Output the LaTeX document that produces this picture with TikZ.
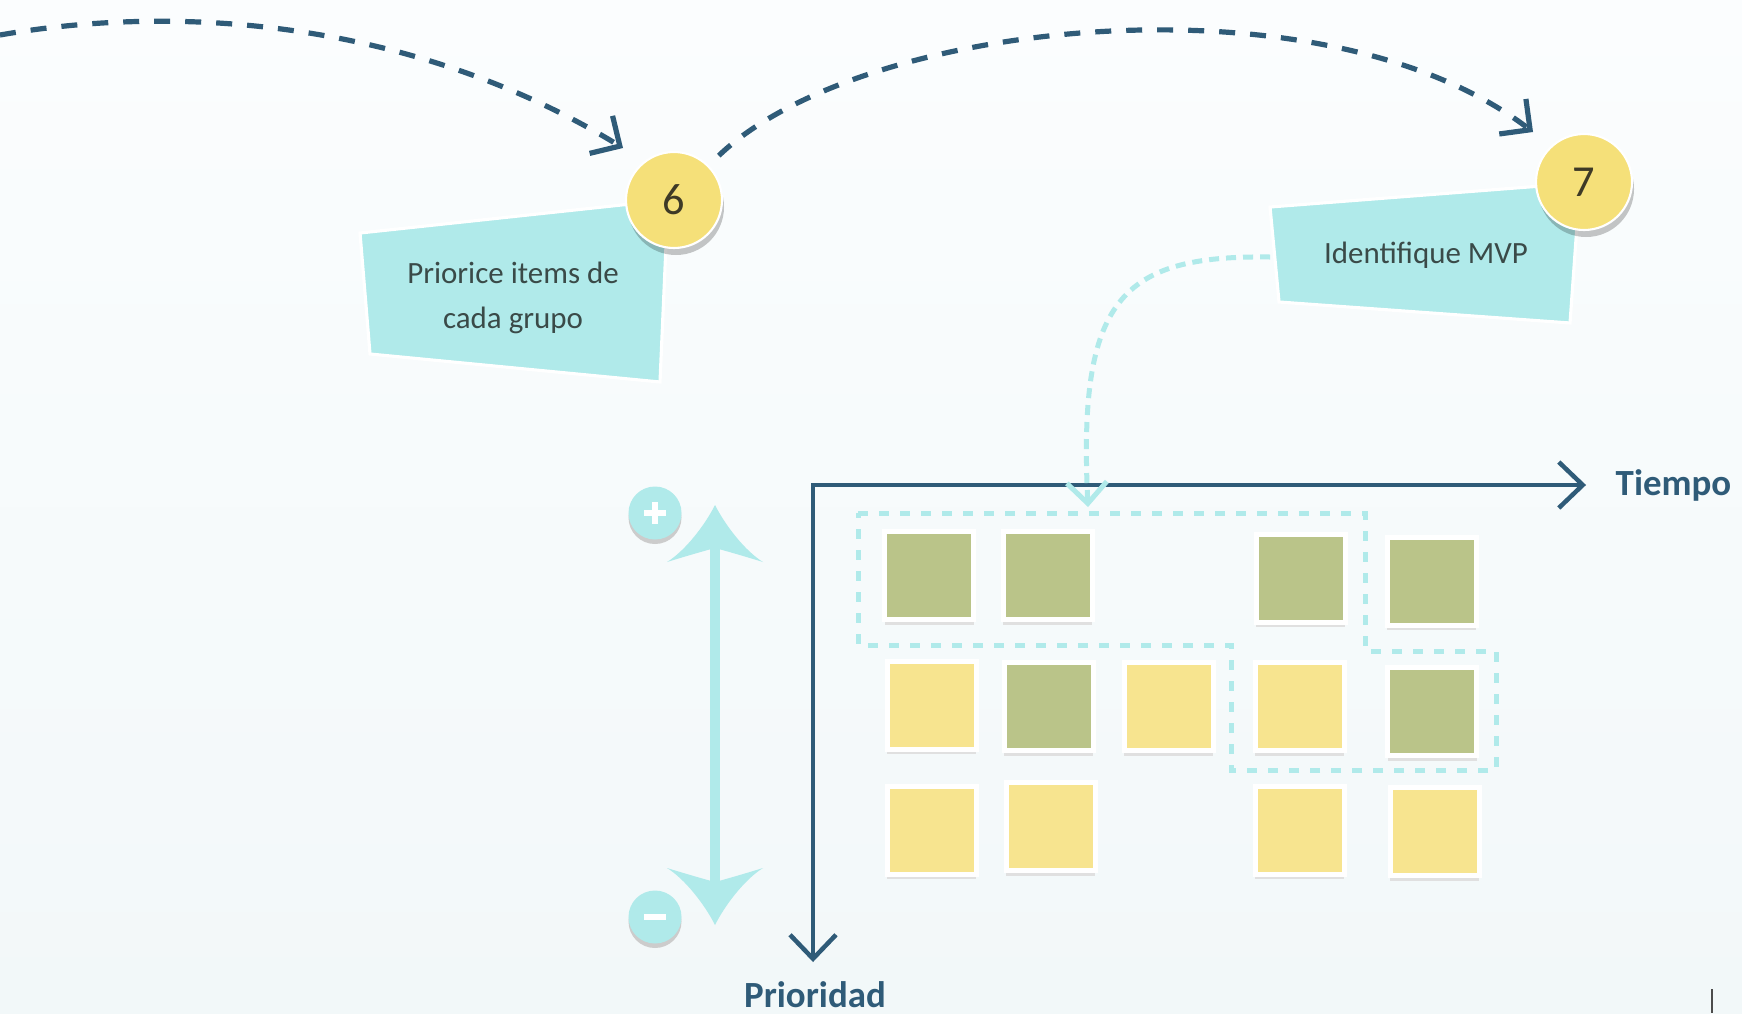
\documentclass[tikz,border=0pt]{standalone}
\usepackage{fontspec}
\setmainfont{Carlito}
\usetikzlibrary{arrows.meta, shadows}

\definecolor{inkblue}{RGB}{47,91,120}
\definecolor{aqua}{RGB}{176,234,234}
\definecolor{sun}{RGB}{245,224,121}
\definecolor{notegreen}{RGB}{186,196,137}
\definecolor{noteyellow}{RGB}{247,228,143}
\definecolor{textgray}{RGB}{58,74,72}
\definecolor{numink}{RGB}{62,58,38}
\definecolor{bgtop}{RGB}{251,253,254}
\definecolor{bgbottom}{RGB}{242,248,249}

\tikzset{
	card/.style={fill=aqua, draw=white, line width=0.9pt},
	cardtext/.style={text=textgray, align=center, font=\fontsize{8.8}{12.8}\selectfont},
	stepnum/.style={draw=white, circle, fill=sun, line width=0.6pt, minimum size=0.96cm, inner sep=0pt, text=numink, font=\fontsize{12.6}{14}\selectfont, drop shadow={shadow xshift=0.02cm, shadow yshift=-0.07cm, fill=black, opacity=0.22}},
	note/.style={draw=white, line width=0.05cm, minimum width=0.89cm, minimum height=0.88cm, inner sep=0pt, drop shadow={shadow xshift=0cm, shadow yshift=-0.05cm, fill=black!12, opacity=1}},
	greennote/.style={note, fill=notegreen},
	yellownote/.style={note, fill=noteyellow},
	pm/.style={circle, fill=aqua, minimum size=0.53cm, inner sep=0pt, drop shadow={shadow xshift=0cm, shadow yshift=-0.045cm, fill=black!20, opacity=1}},
	pmbar/.style={white, line width=0.068cm},
	flowline/.style={inkblue, line width=0.052cm, dash pattern=on 0.16cm off 0.15cm, -{Straight Barb[length=0.22cm, width=0.44cm]}},
	axisline/.style={inkblue, line width=0.045cm, {Straight Barb[length=0.24cm, width=0.46cm]}-{Straight Barb[length=0.24cm, width=0.46cm]}},
	axislabel/.style={text=inkblue, font=\fontsize{10.5}{12}\selectfont\bfseries, inner sep=0pt},
	groupline/.style={aqua, line width=0.05cm, dash pattern=on 0.10cm off 0.11cm},
	mvplink/.style={aqua, line width=0.05cm, dash pattern=on 0.10cm off 0.07cm, -{Straight Barb[length=0.21cm, width=0.40cm]}},
	scalehead/.pic={
		\fill[aqua] (0,0) .. controls (-0.10,-0.20) and (-0.30,-0.46) .. (-0.48,-0.57) .. controls (-0.35,-0.53) and (-0.15,-0.47) .. (0,-0.43) .. controls (0.15,-0.47) and (0.35,-0.53) .. (0.48,-0.57) .. controls (0.30,-0.46) and (0.10,-0.20) .. (0,0) -- cycle;
	}
}

\begin{document}
\begin{tikzpicture}
	\useasboundingbox (0,0) rectangle (17.42,-10.13);
	\clip (0,0) rectangle (17.42,-10.13);
	\shade[top color=bgtop, bottom color=bgbottom] (0,0) rectangle (17.42,-10.13);

	% steps 6 and 7
	\draw[card] (3.60,-2.33) -- (6.68,-2.00) -- (6.60,-3.82) -- (3.70,-3.54) -- cycle;
	\draw[card] (12.70,-2.07) -- (15.80,-1.83) -- (15.70,-3.23) -- (12.79,-3.02) -- cycle;
	\node[cardtext] (task6) at (5.13,-2.98) {Priorice items de\\cada grupo};
	\node[cardtext] (task7) at (14.26,-2.555) {Identifique MVP};
	\node[stepnum] (num6) at (6.74,-2.00) {6};
	\node[stepnum] (num7) at (15.84,-1.82) {7};

	\coordinate (offleft) at (0,-0.35);
	\coordinate (in6) at (6.23,-1.48);
	\coordinate (in7) at (15.33,-1.32);
	\draw[flowline] (offleft) .. controls (2.0,0.0) and (4.3,-0.3) .. (in6);
	\draw[flowline, shorten <=0.14cm] (num6.45) .. controls (8.6,-0.2) and (13.2,0.3) .. (in7);

	% axes
	\coordinate (origin) at (8.13,-4.85);
	\coordinate (tiempoend) at (15.86,-4.85);
	\coordinate (prioend) at (8.13,-9.62);
	\draw[axisline] (tiempoend) -- (origin) -- (prioend);
	\node[axislabel, anchor=base west] (tiempo) at (16.15,-4.95) {Tiempo};
	\node[axislabel, anchor=base] (prio) at (8.15,-10.07) {Prioridad};

	% items
	\node[greennote] (s11) at (9.29,-5.755) {};
	\node[greennote] (s12) at (10.475,-5.755) {};
	\node[greennote] (s14) at (13.005,-5.78) {};
	\node[greennote] (s15) at (14.315,-5.81) {};
	\node[yellownote] (s21) at (9.315,-7.05) {};
	\node[greennote] (s22) at (10.485,-7.065) {};
	\node[yellownote] (s23) at (11.685,-7.065) {};
	\node[yellownote] (s24) at (12.995,-7.065) {};
	\node[greennote] (s25) at (14.32,-7.115) {};
	\node[yellownote] (s31) at (9.315,-8.30) {};
	\node[yellownote] (s32) at (10.505,-8.265) {};
	\node[yellownote] (s34) at (12.995,-8.30) {};
	\node[yellownote] (s35) at (14.345,-8.315) {};

	% MVP group
	\draw[groupline] (8.58,-5.13) -- (13.65,-5.13) -- (13.65,-6.51) -- (14.96,-6.51) -- (14.96,-7.70) -- (12.31,-7.70) -- (12.31,-6.45) -- (8.58,-6.45) -- cycle;
	\coordinate (card7west) at (12.70,-2.57);
	\coordinate (groupin) at (10.88,-5.07);
	\draw[mvplink] (card7west) .. controls (11.20,-2.55) and (10.78,-3.00) .. (groupin);

	% priority scale
	\coordinate (more) at (7.15,-5.05);
	\coordinate (less) at (7.15,-9.25);
	\draw[aqua, line width=0.1cm] ([yshift=-0.38cm]more) -- ([yshift=0.38cm]less);
	\pic at (more) {scalehead};
	\pic[rotate=180] at (less) {scalehead};
	\node[pm] (plus) at (6.55,-5.13) {};
	\node[pm] (minus) at (6.55,-9.17) {};
	\draw[pmbar] ([xshift=-0.11cm]plus.center) -- ([xshift=0.11cm]plus.center);
	\draw[pmbar] ([yshift=-0.11cm]plus.center) -- ([yshift=0.11cm]plus.center);
	\draw[pmbar] ([xshift=-0.11cm]minus.center) -- ([xshift=0.11cm]minus.center);

	\draw[black!70, line width=0.025cm] (17.12,-9.89) -- (17.12,-10.13);
\end{tikzpicture}
\end{document}
